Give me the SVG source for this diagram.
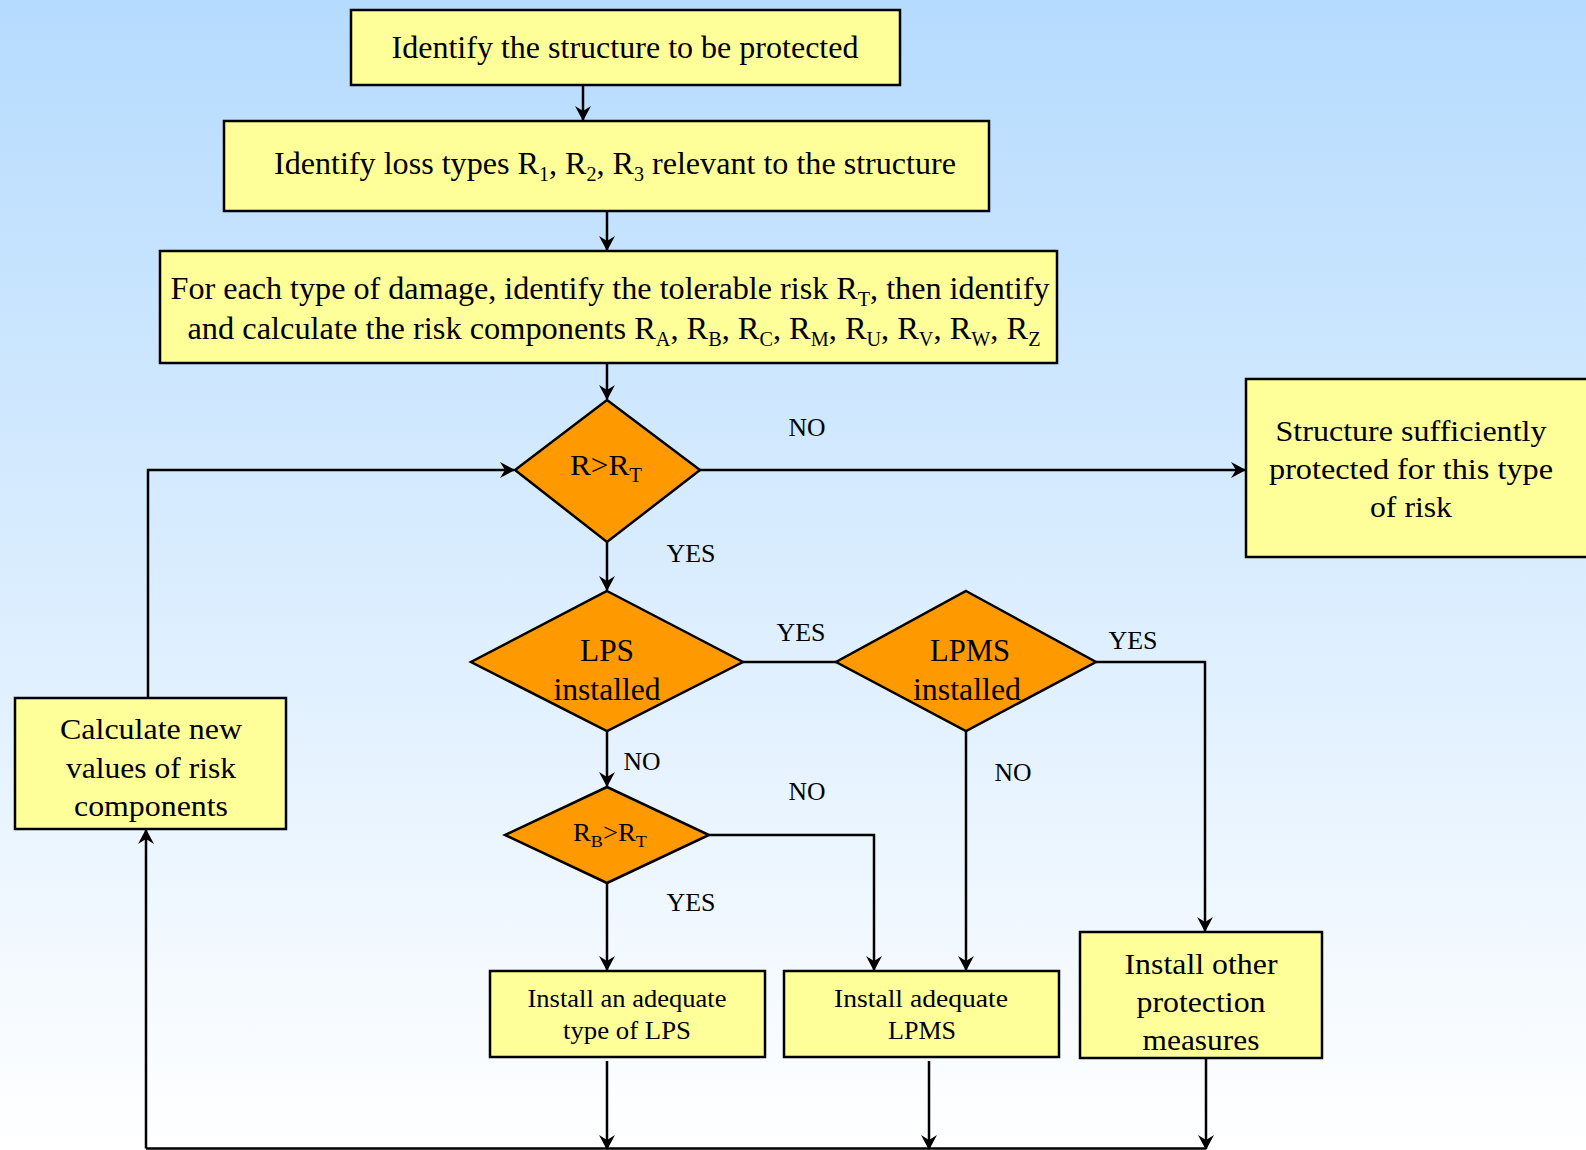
<svg xmlns="http://www.w3.org/2000/svg" width="1586" height="1150" viewBox="0 0 1586 1150">
<defs>
<linearGradient id="bg" x1="0" y1="0" x2="0" y2="1">
<stop offset="0" stop-color="#b5dbfe"/>
<stop offset="1" stop-color="#ffffff"/>
</linearGradient>
<marker id="ah" viewBox="0 0 15 16" refX="14" refY="8" markerWidth="15" markerHeight="16" markerUnits="userSpaceOnUse" orient="auto">
<path d="M0,0 L15,8 L0,16 L5,8 z" fill="#000"/>
</marker>
<style>
.box{fill:#ffff99;stroke:#000;stroke-width:2.5}
.dia{fill:#ff9900;stroke:#000;stroke-width:2.5}
.t{font-family:'Liberation Serif',Tinos,'Times New Roman',Times,'Nimbus Roman','FreeSerif',serif;fill:#000;text-anchor:middle}
.big{font-size:32px}
.mid{font-size:30px}
.sm{font-size:25px}
.lbl{font-family:'Liberation Serif',Tinos,'Times New Roman',Times,'Nimbus Roman','FreeSerif',serif;font-size:26px;fill:#000;text-anchor:middle}
.c{fill:none;stroke:#000;stroke-width:2.5}
.a{marker-end:url(#ah)}
</style>
</defs>
<rect x="0" y="0" width="1586" height="1150" fill="url(#bg)"/>

<g id="connectors">
<path class="c a" d="M583,86 V120"/>
<path class="c a" d="M607,211 V250"/>
<path class="c a" d="M607,363 V399"/>
<path class="c a" d="M700,470 H1245"/>
<path class="c a" d="M607,542 V590"/>
<path class="c" d="M743,662 H836"/>
<path class="c a" d="M1096,662 H1205 V931"/>
<path class="c a" d="M607,731 V786"/>
<path class="c a" d="M709,835 H874 V970"/>
<path class="c a" d="M966,731 V970"/>
<path class="c a" d="M607,883 V970"/>
<path class="c a" d="M607,1061 V1149"/>
<path class="c a" d="M929,1061 V1149"/>
<path class="c a" d="M1206,1059 V1149"/>
<path class="c" d="M146,1148.5 H1206"/>
<path class="c a" d="M146,1148.5 V830"/>
<path class="c a" d="M148,698 V470 H514"/>
</g>

<g id="n1">
<rect class="box" x="351" y="10" width="549" height="75"/>
<text class="t big" x="625" y="58" textLength="467" lengthAdjust="spacingAndGlyphs">Identify the structure to be protected</text>
</g>

<g id="n2">
<rect class="box" x="224" y="121" width="765" height="90"/>
<text class="t big" x="615" y="174" textLength="682" lengthAdjust="spacingAndGlyphs">Identify loss types R<tspan font-size="20" dy="7">1</tspan><tspan dy="-7">, R</tspan><tspan font-size="20" dy="7">2</tspan><tspan dy="-7">, R</tspan><tspan font-size="20" dy="7">3</tspan><tspan dy="-7"> relevant to the structure</tspan></text>
</g>

<g id="n3">
<rect class="box" x="160" y="251" width="897" height="112"/>
<text class="t big" x="610" y="299" textLength="879" lengthAdjust="spacingAndGlyphs">For each type of damage, identify the tolerable risk R<tspan font-size="20" dy="7">T</tspan><tspan dy="-7">, then identify</tspan></text>
<text class="t big" x="614" y="339" textLength="853" lengthAdjust="spacingAndGlyphs">and calculate the risk components R<tspan font-size="20" dy="7">A</tspan><tspan dy="-7">, R</tspan><tspan font-size="20" dy="7">B</tspan><tspan dy="-7">, R</tspan><tspan font-size="20" dy="7">C</tspan><tspan dy="-7">, R</tspan><tspan font-size="20" dy="7">M</tspan><tspan dy="-7">, R</tspan><tspan font-size="20" dy="7">U</tspan><tspan dy="-7">, R</tspan><tspan font-size="20" dy="7">V</tspan><tspan dy="-7">, R</tspan><tspan font-size="20" dy="7">W</tspan><tspan dy="-7">, R</tspan><tspan font-size="20" dy="7">Z</tspan></text>
</g>

<g id="d1">
<polygon class="dia" points="607,400 700,470 607,542 515,470"/>
<text class="t mid" x="606" y="475" textLength="72" lengthAdjust="spacingAndGlyphs">R&gt;R<tspan font-size="20" dy="7">T</tspan></text>
</g>

<g id="n4">
<rect class="box" x="1246" y="379" width="345" height="178"/>
<text class="t mid" x="1411" y="441" textLength="271" lengthAdjust="spacingAndGlyphs">Structure sufficiently</text>
<text class="t mid" x="1411" y="479" textLength="284" lengthAdjust="spacingAndGlyphs">protected for this type</text>
<text class="t mid" x="1411" y="517" textLength="82" lengthAdjust="spacingAndGlyphs">of risk</text>
</g>

<g id="d2">
<polygon class="dia" points="607,591 743,662 607,731 471,662"/>
<text class="t big" x="607" y="661" textLength="54" lengthAdjust="spacingAndGlyphs">LPS</text>
<text class="t big" x="607" y="700" textLength="107" lengthAdjust="spacingAndGlyphs">installed</text>
</g>

<g id="d3">
<polygon class="dia" points="966,591 1096,662 966,731 836,662"/>
<text class="t big" x="970" y="661" textLength="80" lengthAdjust="spacingAndGlyphs">LPMS</text>
<text class="t big" x="967" y="700" textLength="108" lengthAdjust="spacingAndGlyphs">installed</text>
</g>

<g id="d4">
<polygon class="dia" points="607,787 709,835 607,883 505,835"/>
<text class="t sm" x="610" y="841" textLength="74" lengthAdjust="spacingAndGlyphs">R<tspan font-size="17" dy="6">B</tspan><tspan dy="-6">&gt;R</tspan><tspan font-size="17" dy="6">T</tspan></text>
</g>

<g id="n5">
<rect class="box" x="490" y="971" width="275" height="86"/>
<text class="t sm" x="627" y="1007" textLength="199" lengthAdjust="spacingAndGlyphs">Install an adequate</text>
<text class="t sm" x="627" y="1039" textLength="128" lengthAdjust="spacingAndGlyphs">type of LPS</text>
</g>

<g id="n6">
<rect class="box" x="784" y="971" width="275" height="86"/>
<text class="t sm" x="921" y="1007" textLength="174" lengthAdjust="spacingAndGlyphs">Install  adequate</text>
<text class="t sm" x="922" y="1039" textLength="68" lengthAdjust="spacingAndGlyphs">LPMS</text>
</g>

<g id="n7">
<rect class="box" x="1080" y="932" width="242" height="126"/>
<text class="t mid" x="1201" y="974" textLength="153" lengthAdjust="spacingAndGlyphs">Install other</text>
<text class="t mid" x="1201" y="1012" textLength="129" lengthAdjust="spacingAndGlyphs">protection</text>
<text class="t mid" x="1201" y="1050" textLength="117" lengthAdjust="spacingAndGlyphs">measures</text>
</g>

<g id="n8">
<rect class="box" x="15" y="698" width="271" height="131"/>
<text class="t mid" x="151" y="739" textLength="182" lengthAdjust="spacingAndGlyphs">Calculate new</text>
<text class="t mid" x="151" y="778" textLength="170" lengthAdjust="spacingAndGlyphs">values of risk</text>
<text class="t mid" x="151" y="816" textLength="154" lengthAdjust="spacingAndGlyphs">components</text>
</g>

<g id="labels">
<text class="lbl" x="807" y="436" textLength="37" lengthAdjust="spacingAndGlyphs">NO</text>
<text class="lbl" x="691" y="562" textLength="49" lengthAdjust="spacingAndGlyphs">YES</text>
<text class="lbl" x="801" y="641" textLength="49" lengthAdjust="spacingAndGlyphs">YES</text>
<text class="lbl" x="1133" y="649" textLength="49" lengthAdjust="spacingAndGlyphs">YES</text>
<text class="lbl" x="642" y="770" textLength="37" lengthAdjust="spacingAndGlyphs">NO</text>
<text class="lbl" x="807" y="800" textLength="37" lengthAdjust="spacingAndGlyphs">NO</text>
<text class="lbl" x="1013" y="781" textLength="37" lengthAdjust="spacingAndGlyphs">NO</text>
<text class="lbl" x="691" y="911" textLength="49" lengthAdjust="spacingAndGlyphs">YES</text>
</g>
</svg>
